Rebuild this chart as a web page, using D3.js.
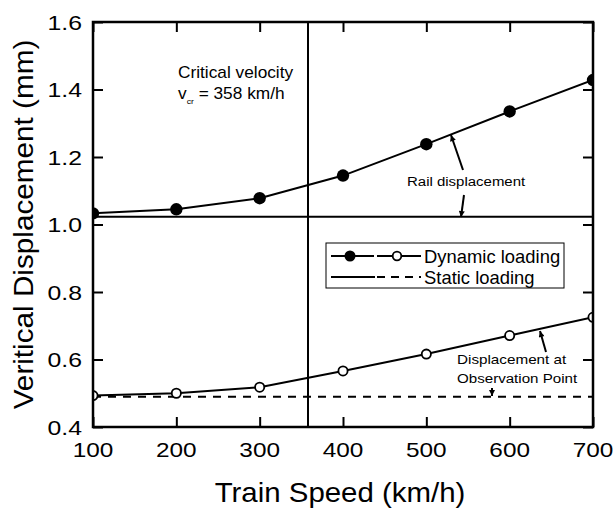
<!DOCTYPE html>
<html><head><meta charset="utf-8">
<script src="https://cdn.jsdelivr.net/npm/d3@7"></script>
<style>body{margin:0;background:#fff}svg{display:block}text{font-family:"Liberation Sans",Arial,sans-serif;fill:#000}</style>
</head><body>
<script>
const speeds = [100, 200, 300, 400, 500, 600, 700];
const railDynamic = [1.033, 1.045, 1.078, 1.145, 1.238, 1.335, 1.428];
const obsDynamic = [0.493, 0.500, 0.518, 0.566, 0.616, 0.671, 0.725];
const railStatic = 1.023;
const obsStatic = 0.49;
const criticalVelocity = 358;
const xTicks = [100, 200, 300, 400, 500, 600, 700];
const yTicks = [0.4, 0.6, 0.8, 1.0, 1.2, 1.4, 1.6];

const W = 616, H = 510;
const m = {l: 93, r: 23, t: 22, b: 83};
const iw = W - m.l - m.r, ih = H - m.t - m.b;
const svg = d3.select("body").append("svg").attr("width", W).attr("height", H);
const x = d3.scaleLinear().domain([100, 700]).range([m.l, m.l + iw]);
const y = d3.scaleLinear().domain([0.4, 1.6]).range([m.t + ih, m.t]);

const defs = svg.append("defs");
defs.append("clipPath").attr("id", "clip")
  .append("rect").attr("x", m.l).attr("y", m.t).attr("width", iw).attr("height", ih);
defs.append("marker").attr("id", "ah").attr("viewBox", "0 0 10 10").attr("refX", 10).attr("refY", 5)
  .attr("markerWidth", 9).attr("markerHeight", 6).attr("markerUnits", "userSpaceOnUse").attr("orient", "auto")
  .append("path").attr("d", "M0,0 L10,5 L0,10 Z").attr("fill", "#000");

// text helper with horizontal stretch
function txt(parent, tx, ty, str, fs, sx, anchor, rot) {
  return parent.append("text")
    .attr("transform", `translate(${tx},${ty})${rot ? " rotate(" + rot + ")" : ""} scale(${sx},1)`)
    .attr("font-size", fs).attr("text-anchor", anchor || "start").text(str);
}

// axes with inward ticks (labels drawn below with the same scales)
const gx = svg.append("g").attr("transform", `translate(0,${m.t + ih})`)
  .call(d3.axisBottom(x).tickValues(xTicks).tickSizeInner(-10).tickSizeOuter(0).tickFormat(""));
const gxt = svg.append("g").attr("transform", `translate(0,${m.t})`)
  .call(d3.axisTop(x).tickValues(xTicks).tickSizeInner(-10).tickSizeOuter(0).tickFormat(""));
const gy = svg.append("g").attr("transform", `translate(${m.l},0)`)
  .call(d3.axisLeft(y).tickValues(yTicks).tickSizeInner(-10).tickSizeOuter(0).tickFormat(""));
const gyr = svg.append("g").attr("transform", `translate(${m.l + iw},0)`)
  .call(d3.axisRight(y).tickValues(yTicks).tickSizeInner(-10).tickSizeOuter(0).tickFormat(""));
[gx, gxt, gy, gyr].forEach(g => { g.select(".domain").remove(); g.selectAll("line").attr("stroke", "#000").attr("stroke-width", 2); });

const fmt = d3.format(".1f");
xTicks.forEach(v => txt(svg, x(v), 457, String(v), 21, 1.16, "middle"));
yTicks.forEach(v => txt(svg, 82, y(v) + 7.5, fmt(v), 21, 1.18, "end"));

const plot = svg.append("g").attr("clip-path", "url(#clip)");
const line = d3.line().x((d, i) => x(speeds[i])).y(d => y(d));

// static lines
plot.append("line").attr("x1", x(100)).attr("x2", x(700)).attr("y1", y(railStatic)).attr("y2", y(railStatic))
  .attr("stroke", "#000").attr("stroke-width", 2);
plot.append("line").attr("x1", x(100)).attr("x2", x(700)).attr("y1", y(obsStatic)).attr("y2", y(obsStatic))
  .attr("stroke", "#000").attr("stroke-width", 2).attr("stroke-dasharray", "8,7");
// critical velocity
plot.append("line").attr("x1", x(criticalVelocity)).attr("x2", x(criticalVelocity)).attr("y1", m.t).attr("y2", m.t + ih)
  .attr("stroke", "#000").attr("stroke-width", 2);

plot.append("path").datum(railDynamic).attr("d", line).attr("fill", "none").attr("stroke", "#000").attr("stroke-width", 2);
plot.append("path").datum(obsDynamic).attr("d", line).attr("fill", "none").attr("stroke", "#000").attr("stroke-width", 2);
plot.selectAll(".fc").data(railDynamic).join("circle").attr("cx", (d, i) => x(speeds[i])).attr("cy", d => y(d))
  .attr("r", 6.2).attr("fill", "#000");
plot.selectAll(".oc").data(obsDynamic).join("circle").attr("cx", (d, i) => x(speeds[i])).attr("cy", d => y(d))
  .attr("r", 4.6).attr("fill", "#fff").attr("stroke", "#000").attr("stroke-width", 1.8);

// frame
svg.append("rect").attr("x", m.l).attr("y", m.t).attr("width", iw).attr("height", ih)
  .attr("fill", "none").attr("stroke", "#000").attr("stroke-width", 2.5);

// axis titles
txt(svg, m.l + iw / 2 - 3, 502, "Train Speed (km/h)", 27, 1.09, "middle");
txt(svg, 33, m.t + ih / 2, "Veritical Displacement (mm)", 27, 1.1, "middle", -90);

// critical velocity label
txt(svg, 178, 78, "Critical velocity", 16, 1.08);
const t2 = txt(svg, 178, 99, "", 16, 1.08);
t2.append("tspan").text("v");
t2.append("tspan").attr("font-size", 8).attr("dy", 5).text("cr");
t2.append("tspan").attr("dy", -5).text(" = 358 km/h");

// annotations
txt(svg, 407, 186, "Rail displacement", 13.5, 1.11);
svg.append("line").attr("x1", 463).attr("y1", 170).attr("x2", 451).attr("y2", 135).attr("stroke", "#000").attr("stroke-width", 2).attr("marker-end", "url(#ah)");
svg.append("line").attr("x1", 464).attr("y1", 195).attr("x2", 461).attr("y2", 217).attr("stroke", "#000").attr("stroke-width", 2).attr("marker-end", "url(#ah)");
txt(svg, 457, 364, "Displacement at", 13.5, 1.13);
txt(svg, 457, 383, "Observation Point", 13.5, 1.12);
svg.append("line").attr("x1", 546).attr("y1", 352).attr("x2", 540).attr("y2", 331).attr("stroke", "#000").attr("stroke-width", 2).attr("marker-end", "url(#ah)");
svg.append("line").attr("x1", 492).attr("y1", 388).attr("x2", 492).attr("y2", 396).attr("stroke", "#000").attr("stroke-width", 2).attr("marker-end", "url(#ah)");

// legend
const lg = svg.append("g");
lg.append("rect").attr("x", 326).attr("y", 243).attr("width", 238).attr("height", 45).attr("fill", "#fff").attr("stroke", "#000").attr("stroke-width", 1);
const r1 = 256, r2 = 277;
lg.append("line").attr("x1", 331).attr("x2", 374).attr("y1", r1).attr("y2", r1).attr("stroke", "#000").attr("stroke-width", 2);
lg.append("circle").attr("cx", 350).attr("cy", r1).attr("r", 5.5).attr("fill", "#000");
lg.append("line").attr("x1", 377).attr("x2", 421).attr("y1", r1).attr("y2", r1).attr("stroke", "#000").attr("stroke-width", 2);
lg.append("circle").attr("cx", 397).attr("cy", r1).attr("r", 4.3).attr("fill", "#fff").attr("stroke", "#000").attr("stroke-width", 1.8);
txt(lg, 424, r1 + 7, "Dynamic loading", 19, 0.97);
lg.append("line").attr("x1", 331).attr("x2", 375).attr("y1", r2).attr("y2", r2).attr("stroke", "#000").attr("stroke-width", 2);
lg.append("line").attr("x1", 377).attr("x2", 421).attr("y1", r2).attr("y2", r2).attr("stroke", "#000").attr("stroke-width", 2).attr("stroke-dasharray", "8,6");
txt(lg, 424, r2 + 7, "Static loading", 19, 0.97);
</script>
</body></html>
